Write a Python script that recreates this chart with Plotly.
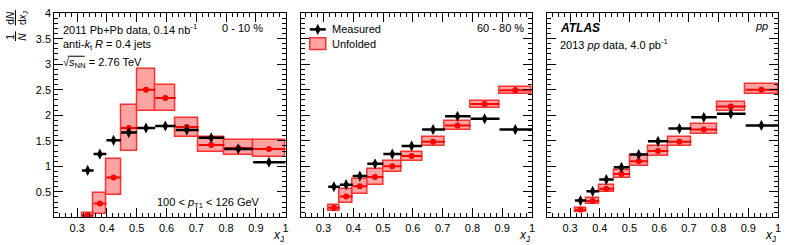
import plotly.graph_objects as go

# ---------------- data ----------------
bin_edges = [0.316, 0.355, 0.398, 0.447, 0.501, 0.562, 0.631, 0.708, 0.794, 0.891, 1.0]
bin_centers = [0.335, 0.376, 0.422, 0.473, 0.531, 0.596, 0.668, 0.750, 0.841, 0.944]

# 0-10 %
c010_meas = [0.92, 1.24, 1.51, 1.66, 1.75, 1.79, 1.71, 1.56, 1.34, 1.08]
c010_meas_err = [0.05, 0.04, 0.04, 0.04, 0.04, 0.04, 0.04, 0.04, 0.04, 0.03]
c010_unf = [0.04, 0.27, 0.78, 1.75, 2.50, 2.34, 1.77, 1.42, 1.36, 1.34]
c010_unf_err = [0.02, 0.03, 0.04, 0.05, 0.05, 0.04, 0.04, 0.03, 0.03, 0.03]
c010_sys_lo = [0.00, 0.07, 0.43, 1.29, 2.09, 2.08, 1.58, 1.27, 1.21, 1.18]
c010_sys_hi = [0.09, 0.47, 1.14, 2.20, 2.91, 2.60, 1.94, 1.58, 1.51, 1.52]

# 60-80 %
c6080_meas = [0.60, 0.64, 0.81, 1.05, 1.24, 1.40, 1.72, 1.98, 1.93, 1.72]
c6080_meas_err = [0.04, 0.04, 0.04, 0.04, 0.04, 0.04, 0.05, 0.05, 0.05, 0.06]
c6080_unf = [0.19, 0.41, 0.61, 0.79, 1.00, 1.20, 1.48, 1.80, 2.22, 2.49]
c6080_unf_err = [0.02, 0.03, 0.03, 0.03, 0.03, 0.03, 0.04, 0.04, 0.04, 0.06]
c6080_sys_lo = [0.13, 0.27, 0.46, 0.64, 0.88, 1.10, 1.39, 1.71, 2.14, 2.41]
c6080_sys_hi = [0.24, 0.55, 0.75, 0.94, 1.11, 1.28, 1.58, 1.89, 2.28, 2.56]

# pp
pp_meas = [0.33, 0.51, 0.74, 0.98, 1.23, 1.49, 1.74, 1.96, 2.03, 1.80]
pp_meas_err = [0.03, 0.03, 0.03, 0.04, 0.04, 0.03, 0.03, 0.03, 0.03, 0.03]
pp_unf = [0.15, 0.32, 0.56, 0.85, 1.10, 1.30, 1.48, 1.72, 2.17, 2.50]
pp_unf_err = [0.01, 0.02, 0.02, 0.02, 0.02, 0.02, 0.02, 0.03, 0.03, 0.05]
pp_sys_lo = [0.11, 0.26, 0.49, 0.76, 1.00, 1.20, 1.39, 1.63, 2.08, 2.41]
pp_sys_hi = [0.19, 0.38, 0.63, 0.93, 1.21, 1.40, 1.57, 1.82, 2.26, 2.61]

x_tick_vals = [0.3, 0.4, 0.5, 0.6, 0.7, 0.8, 0.9, 1.0]
x_tick_text = ["0.3", "0.4", "0.5", "0.6", "0.7", "0.8", "0.9", "1"]
y_tick_vals = [0.5, 1.0, 1.5, 2.0, 2.5, 3.0, 3.5, 4.0]
y_tick_text = ["0.5", "1", "1.5", "2", "2.5", "3", "3.5", "4"]

panels = [
    (c010_meas, c010_meas_err, c010_unf, c010_unf_err, c010_sys_lo, c010_sys_hi),
    (c6080_meas, c6080_meas_err, c6080_unf, c6080_unf_err, c6080_sys_lo, c6080_sys_hi),
    (pp_meas, pp_meas_err, pp_unf, pp_unf_err, pp_sys_lo, pp_sys_hi),
]

# ---------------- layout geometry ----------------
W, H = 789, 245
FONT = "Liberation Sans, Arial, Helvetica, sans-serif"
RED = "#ff0000"
BOX_FILL = "#ffa3a3"
BOX_LINE = "#ff3030"

x_dom_px = [(54.5, 286.7), (301.7, 534.0), (549.3, 781.0)]
y_top_px, y_bot_px = 7.3, 216.7

fig = go.Figure()

left_err = [c - lo for c, lo in zip(bin_centers, bin_edges[:-1])]
right_err = [hi - c for c, hi in zip(bin_centers, bin_edges[1:])]
widths = [hi - lo for lo, hi in zip(bin_edges[:-1], bin_edges[1:])]
mids = [(lo + hi) / 2 for lo, hi in zip(bin_edges[:-1], bin_edges[1:])]

for i, (meas, meas_err, unf, unf_err, slo, shi) in enumerate(panels):
    xa = "x" if i == 0 else f"x{i+1}"
    ya = "y" if i == 0 else f"y{i+1}"
    fig.add_trace(go.Bar(
        x=mids, y=[h - l for l, h in zip(slo, shi)], base=slo, width=widths,
        marker=dict(color=BOX_FILL, line=dict(color=BOX_LINE, width=1.5)),
        xaxis=xa, yaxis=ya, showlegend=False, hoverinfo="skip"))
    fig.add_trace(go.Scatter(
        x=bin_centers, y=unf, mode="markers",
        marker=dict(symbol="circle", size=6, color=RED),
        error_x=dict(type="data", symmetric=False, array=right_err, arrayminus=left_err,
                     color=RED, thickness=2, width=0),
        error_y=dict(type="data", array=unf_err, color=RED, thickness=2, width=0),
        xaxis=xa, yaxis=ya, showlegend=False))
    fig.add_trace(go.Scatter(
        x=bin_centers, y=meas, mode="markers",
        marker=dict(symbol="diamond-tall", size=8, color="black"),
        error_x=dict(type="data", symmetric=False, array=right_err, arrayminus=left_err,
                     color="black", thickness=2.5, width=0),
        error_y=dict(type="data", array=meas_err, color="black", thickness=2, width=0),
        xaxis=xa, yaxis=ya, showlegend=False))

axis_common = dict(
    showline=True, linecolor="black", linewidth=1, mirror="allticks",
    ticks="inside", ticklen=9, tickcolor="black", tickwidth=1,
    showgrid=False, zeroline=False,
    tickfont=dict(family=FONT, size=11, color="black"),
    fixedrange=True,
)

layout = dict(
    width=W, height=H,
    margin=dict(l=0, r=0, t=0, b=0),
    paper_bgcolor="white", plot_bgcolor="rgba(0,0,0,0)",
    barmode="overlay", bargap=0,
    showlegend=False,
    font=dict(family=FONT, size=11, color="black"),
)

for i, (x0, x1) in enumerate(x_dom_px):
    xk = "xaxis" if i == 0 else f"xaxis{i+1}"
    yk = "yaxis" if i == 0 else f"yaxis{i+1}"
    ya = "y" if i == 0 else f"y{i+1}"
    xa = "x" if i == 0 else f"x{i+1}"
    layout[xk] = dict(
        axis_common, domain=[x0 / W, x1 / W], anchor=ya, range=[0.223, 1.0],
        tickvals=x_tick_vals, ticktext=x_tick_text,
        minor=dict(dtick=0.02, tick0=0, ticks="inside", ticklen=4, tickcolor="black", showgrid=False),
    )
    ydict = dict(
        axis_common, domain=[1 - y_bot_px / H, 1 - y_top_px / H], anchor=xa, range=[0, 4],
        tickvals=y_tick_vals, showticklabels=(i == 0),
        minor=dict(dtick=0.1, tick0=0, ticks="inside", ticklen=4, tickcolor="black", showgrid=False),
    )
    if i == 0:
        ydict["ticktext"] = y_tick_text
    layout[yk] = ydict

layout["xaxis4"] = dict(domain=[0, 1], range=[0, W], visible=False, fixedrange=True, anchor="y4")
layout["yaxis4"] = dict(domain=[0, 1], range=[H, 0], visible=False, fixedrange=True, anchor="x4")

fig.update_layout(**layout)

# legend symbols (panel 2)
fig.add_shape(type="rect", xref="x4", yref="y4", x0=311, x1=327, y0=32.5, y1=44.5,
              fillcolor=BOX_FILL, line=dict(color=BOX_LINE, width=1.5))
fig.add_trace(go.Scatter(x=[311, 327], y=[24, 24], mode="lines",
                         line=dict(color="black", width=2.5), xaxis="x4", yaxis="y4",
                         showlegend=False, hoverinfo="skip"))
fig.add_trace(go.Scatter(x=[319], y=[24], mode="markers",
                         marker=dict(symbol="diamond-tall", size=8, color="black"),
                         xaxis="x4", yaxis="y4", showlegend=False, hoverinfo="skip"))
fig.add_trace(go.Scatter(x=[319], y=[38.5], mode="markers",
                         marker=dict(symbol="circle", size=6, color=RED),
                         xaxis="x4", yaxis="y4", showlegend=False, hoverinfo="skip"))


def txt(x, y, s, anchor="left", size=11, angle=0, yanchor="middle"):
    fig.add_annotation(x=x, y=y, xref="x4", yref="y4", text=s, showarrow=False,
                       xanchor=anchor, yanchor=yanchor, textangle=angle,
                       font=dict(family=FONT, size=size, color="black"))


# panel 1
txt(61, 24, "2011 Pb+Pb data, 0.14 nb<sup>-1</sup>")
txt(266, 23, "0 - 10 %", anchor="right")
txt(61, 40, "anti-<i>k</i><sub>t</sub> <i>R</i> = 0.4 jets")
txt(61, 58, "√<i>s</i><sub>NN</sub> = 2.76 TeV")
fig.add_shape(type="line", xref="x4", yref="y4", x0=68, x1=85, y0=51.5, y1=51.5,
              line=dict(color="black", width=1))
txt(263, 202, "100 < <i>p</i><sub>T1</sub> < 126 GeV", anchor="right")

# panel 2
txt(331, 24, "Measured")
txt(331, 38.5, "Unfolded")
txt(528, 23, "60 - 80 %", anchor="right")

# panel 3
txt(560, 23, "<b><i>ATLAS</i></b>", size=12)
txt(773, 21, "<i>pp</i>", anchor="right")
txt(560, 39, "2013 <i>pp</i> data, 4.0 pb<sup>-1</sup>")

# x-axis titles
for xr in [287, 534, 781]:
    txt(xr, 236, "<i>x</i><sub>J</sub>", anchor="right", size=12)

# y-axis title (stacked fractions, rotated)
txt(10.5, 11.5, "d<i>N</i>", anchor="center", angle=-90, size=10)
txt(22.5, 12, "d<i>x</i><sub>J</sub>", anchor="center", angle=-90, size=10)
txt(10.5, 31, "1", anchor="center", angle=-90, size=10)
txt(22.5, 31, "<i>N</i>", anchor="center", angle=-90, size=10)
fig.add_shape(type="line", xref="x4", yref="y4", x0=15.5, x1=15.5, y0=4, y1=20,
              line=dict(color="black", width=1))
fig.add_shape(type="line", xref="x4", yref="y4", x0=15.5, x1=15.5, y0=26, y1=36,
              line=dict(color="black", width=1))

fig.write_html("out.html", config={"displayModeBar": False},
               post_script="document.body.style.margin='0';document.body.style.overflow='hidden';")
